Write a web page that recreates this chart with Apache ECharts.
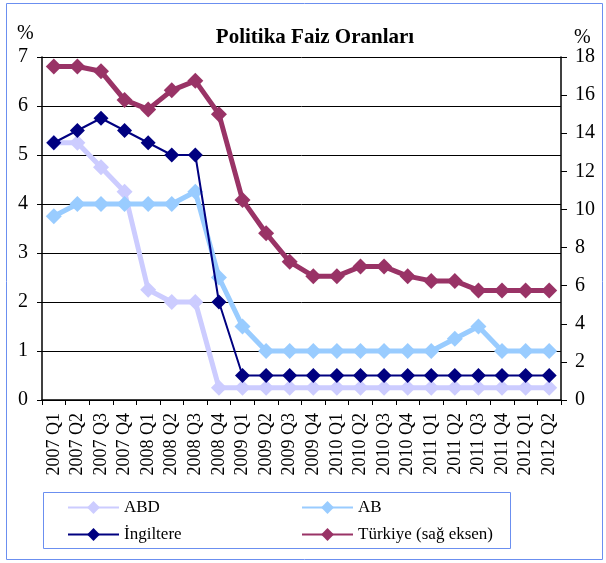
<!DOCTYPE html>
<html><head><meta charset="utf-8">
<script src="https://cdn.jsdelivr.net/npm/echarts@6/dist/echarts.min.js"></script>
<style>html,body{margin:0;padding:0;background:#fff}#c{width:606px;height:563px}</style>
</head><body><div id="c"></div>
<script>
const categories = ['2007 Q1','2007 Q2','2007 Q3','2007 Q4','2008 Q1','2008 Q2','2008 Q3','2008 Q4','2009 Q1','2009 Q2','2009 Q3','2009 Q4','2010 Q1','2010 Q2','2010 Q3','2010 Q4','2011 Q1','2011 Q2','2011 Q3','2011 Q4','2012 Q1','2012 Q2'];
const abd = [5.25,5.25,4.75,4.25,2.25,2.0,2.0,0.25,0.25,0.25,0.25,0.25,0.25,0.25,0.25,0.25,0.25,0.25,0.25,0.25,0.25,0.25];
const ab = [3.75,4.0,4.0,4.0,4.0,4.0,4.25,2.5,1.5,1.0,1.0,1.0,1.0,1.0,1.0,1.0,1.0,1.25,1.5,1.0,1.0,1.0];
const ingiltere = [5.25,5.5,5.75,5.5,5.25,5.0,5.0,2.0,0.5,0.5,0.5,0.5,0.5,0.5,0.5,0.5,0.5,0.5,0.5,0.5,0.5,0.5];
const turkiye = [17.5,17.5,17.25,15.75,15.25,16.25,16.75,15.0,10.5,8.75,7.25,6.5,6.5,7.0,7.0,6.5,6.25,6.25,5.75,5.75,5.75,5.75];

const F = '"Liberation Serif","Times New Roman",serif';
const chart = echarts.init(document.getElementById('c'), null, {renderer:'canvas'});
function mk(name, data, color, width, yi, z, size){
  return {name, type:'line', data, yAxisIndex:yi, z,
    symbol:'diamond', symbolSize: size,
    lineStyle:{color, width}, itemStyle:{color, borderWidth:0},
    emphasis:{disabled:true}, animation:false};
}
const legBase = {orient:'horizontal', itemWidth:51, itemHeight:16, itemGap:4, padding:0,
  textStyle:{fontFamily:F, fontSize:17, color:'#000'}, selectedMode:false};
chart.setOption({
  animation:false,
  title:{text:'Politika Faiz Oranları', left:310, top:22, textAlign:'center',
    textStyle:{fontFamily:F, fontSize:21, fontWeight:'bold', color:'#000'}},
  graphic:[
    {type:'rect', shape:{x:6.5,y:3.5,width:596,height:556}, style:{fill:'none', stroke:'#6b8ff0', lineWidth:1}, z:-1},
    {type:'rect', shape:{x:43.5,y:492.5,width:467,height:56}, style:{fill:'none', stroke:'#6b8ff0', lineWidth:1}, z:-1},
    {type:'text', left:17, top:24, style:{text:'%', font:'20px "Liberation Serif", serif', fill:'#000'}},
    {type:'text', left:574, top:28, style:{text:'%', font:'20px "Liberation Serif", serif', fill:'#000'}}
  ],
  legend:[
    Object.assign({}, legBase, {data:['ABD'], left:67, top:499}),
    Object.assign({}, legBase, {data:['AB'], left:301, top:499}),
    Object.assign({}, legBase, {data:['İngiltere'], left:67, top:526}),
    Object.assign({}, legBase, {data:['Türkiye (sağ eksen)'], left:301, top:526})
  ],
  grid:{left:42, right:45, top:57, bottom:163},
  xAxis:{type:'category', data:categories, boundaryGap:true,
    axisLine:{lineStyle:{color:'#000', width:1.5}},
    axisTick:{show:true, interval:0, length:5, lineStyle:{color:'#000'}},
    axisLabel:{rotate:90, interval:0, fontFamily:F, fontSize:18, color:'#000', margin:13},
    splitLine:{show:false}},
  yAxis:[
    {type:'value', min:0, max:7, interval:1, position:'left',
      axisLine:{show:true, lineStyle:{color:'#000', width:1.5}},
      axisTick:{show:true, length:5, lineStyle:{color:'#000'}},
      axisLabel:{fontFamily:F, fontSize:20, color:'#000', margin:14},
      splitLine:{show:true, lineStyle:{color:'#000', width:1}}},
    {type:'value', min:0, max:18, interval:2, position:'right',
      axisLine:{show:true, lineStyle:{color:'#000', width:1.5}},
      axisTick:{show:true, length:6, lineStyle:{color:'#000'}},
      axisLabel:{fontFamily:F, fontSize:20, color:'#000', margin:14},
      splitLine:{show:false}}
  ],
  series:[
    mk('ABD', abd, '#CCCCFF', 5, 0, 2, 16),
    mk('AB', ab, '#99CCFF', 5, 0, 3, 16),
    mk('İngiltere', ingiltere, '#000080', 2, 0, 4, 15),
    mk('Türkiye (sağ eksen)', turkiye, '#993366', 5, 1, 5, 16)
  ]
});
</script></body></html>
